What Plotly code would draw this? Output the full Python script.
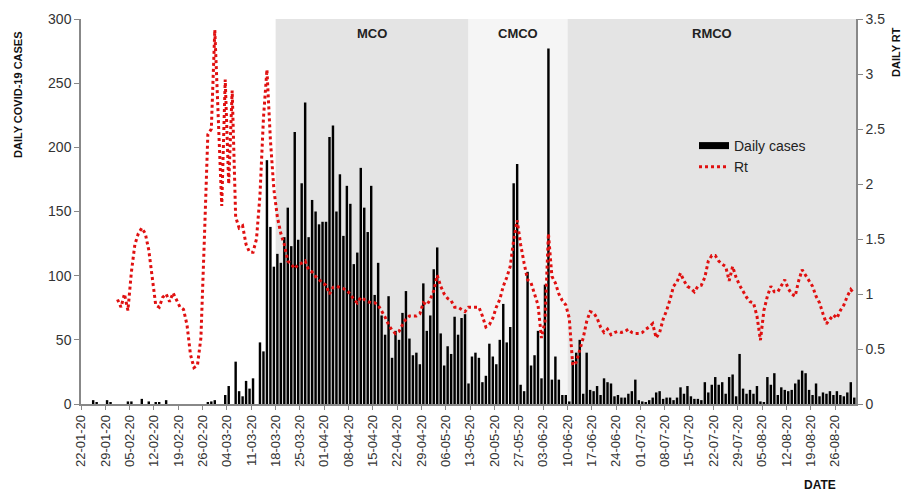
import pandas as pd
import plotly.graph_objects as go

dates = pd.date_range("2020-01-22", "2020-08-31", freq="D")

daily_cases = [
    0, 0, 0, 3, 1, 0, 0, 3, 1, 0,            # 22-01 .. 31-01
    0, 0, 0, 2, 2, 0, 0, 4, 0, 2,            # 01-02 .. 10-02
    0, 1, 1, 0, 3, 0, 0, 0, 0, 0,            # 11-02 .. 20-02
    0, 0, 0, 0, 0, 0, 1, 2, 3, 0,            # 21-02 .. 01-03
    0, 7, 14, 0, 33, 10, 6, 18, 12, 20,      # 02-03 .. 11-03
    0, 48, 41, 190, 138, 107, 117, 110, 130, 153,   # 12-03 .. 21-03
    123, 212, 128, 172, 235, 130, 159, 150, 140, 142,  # 22-03 .. 31-03
    142, 208, 217, 150, 179, 131, 170, 156, 109, 118,  # 01-04 .. 10-04
    184, 153, 134, 170, 85, 110, 69, 54, 84, 36,       # 11-04 .. 20-04
    57, 50, 71, 88, 51, 38, 40, 31, 94, 57,            # 21-04 .. 30-04
    69, 105, 122, 55, 30, 45, 39, 68, 54, 67,          # 01-05 .. 10-05
    70, 16, 37, 40, 36, 17, 22, 47, 37, 31,            # 11-05 .. 20-05
    50, 78, 48, 60, 172, 187, 15, 10, 103, 30,         # 21-05 .. 30-05
    38, 57, 20, 93, 277, 19, 37, 19, 7, 7,             # 31-05 .. 09-06
    2, 34, 40, 50, 8, 40, 11, 10, 14, 7,               # 10-06 .. 19-06
    20, 17, 16, 6, 7, 5, 5, 8, 10, 19,                 # 20-06 .. 29-06
    3, 2, 1, 3, 5, 9, 10, 4, 5, 5,                     # 30-06 .. 09-07
    3, 5, 13, 8, 14, 6, 4, 4, 3, 17,                   # 10-07 .. 19-07
    9, 15, 21, 15, 17, 8, 21, 23, 6, 39,               # 20-07 .. 29-07
    12, 8, 11, 8, 14, 2, 1, 21, 15, 24,                # 30-07 .. 08-08
    7, 13, 11, 10, 11, 16, 19, 26, 24, 11,             # 09-08 .. 18-08
    7, 16, 6, 9, 8, 10, 7, 10, 7, 6,                   # 19-08 .. 28-08
    9, 17, 5,                                          # 29-08 .. 31-08
]

rt_values = [None] * 10 + [
    0.95, 0.88, 1.00, 0.85, 1.20, 1.45, 1.55, 1.60, 1.55, 1.40,   # d10-19
    1.15, 0.90, 0.88, 0.97, 1.00, 0.93, 1.01, 0.95, 0.88, 0.86,   # d20-29
    0.72, 0.45, 0.33, 0.35, 0.60, 1.50, 2.45, 2.50, 3.40, 2.60,   # d30-39
    1.80, 2.95, 2.00, 2.85, 1.70, 1.60, 1.62, 1.45, 1.38, 1.38,   # d40-49
    1.50, 1.90, 2.60, 3.04, 2.40, 1.95, 1.70, 1.55, 1.45, 1.30,   # d50-59
    1.27, 1.23, 1.27, 1.28, 1.30, 1.22, 1.20, 1.16, 1.13, 1.10,   # d60-69
    1.08, 1.00, 1.06, 1.07, 1.06, 1.05, 1.03, 1.00, 0.95, 0.92,   # d70-79
    0.97, 0.95, 0.93, 0.92, 0.92, 0.90, 0.85, 0.79, 0.72, 0.67,   # d80-89
    0.64, 0.66, 0.72, 0.77, 0.80, 0.80, 0.80, 0.82, 0.92, 0.90,   # d90-99
    0.95, 1.03, 1.17, 1.07, 1.00, 0.96, 0.94, 0.88, 0.88, 0.86,   # d100-109
    0.84, 0.88, 0.88, 0.88, 0.88, 0.80, 0.70, 0.72, 0.78, 0.88,   # d110-119
    0.95, 1.07, 1.15, 1.25, 1.49, 1.67, 1.45, 1.28, 1.13, 1.10,   # d120-129
    1.00, 0.90, 0.60, 0.75, 1.55, 1.16, 1.10, 1.00, 0.94, 0.90,   # d130-139
    0.78, 0.35, 0.38, 0.48, 0.60, 0.75, 0.84, 0.83, 0.78, 0.70,   # d140-149
    0.65, 0.68, 0.63, 0.65, 0.66, 0.65, 0.66, 0.68, 0.65, 0.64,   # d150-159
    0.64, 0.65, 0.68, 0.70, 0.73, 0.60, 0.65, 0.77, 0.85, 0.95,   # d160-169
    1.07, 1.11, 1.19, 1.12, 1.07, 1.05, 1.02, 1.07, 1.08, 1.15,   # d170-179
    1.30, 1.35, 1.35, 1.30, 1.27, 1.25, 1.12, 1.25, 1.15, 1.08,   # d180-189
    1.02, 0.97, 0.93, 0.92, 0.80, 0.58, 0.85, 0.98, 1.07, 1.02,   # d190-199
    1.02, 1.08, 1.13, 1.05, 1.00, 0.98, 1.12, 1.22, 1.17, 1.12,   # d200-209
    1.07, 0.98, 0.92, 0.82, 0.73, 0.77, 0.81, 0.78, 0.85, 0.90,   # d210-219
    0.98, 1.04, 1.00,                                             # d220-222
]

phases = ["MCO", "CMCO", "RMCO"]
phase_start = ["2020-03-18", "2020-05-12 12:00", "2020-06-10"]
phase_end = ["2020-05-12 12:00", "2020-06-10", "2020-09-01"]
phase_color = ["#e4e4e4", "#f5f5f5", "#e4e4e4"]

FONT = "Liberation Sans, Arial, sans-serif"
DAY_MS = 86400000

# plot area geometry (page has 8px body margin); reference plot area x 81-856, y 19-404
L, T, PW, PH = 73, 11, 775, 385
FW, FH = 897, 487


def px_x(px):
    return (px - 81) / PW


def px_y(py):
    return (404 - py) / PH


fig = go.Figure()

fig.add_trace(go.Bar(
    x=dates, y=daily_cases, name="Daily cases",
    xperiod=DAY_MS, xperiodalignment="middle",
    marker=dict(color="#000000", line=dict(width=0)),
    showlegend=False,
))
# legend sample for bars (drawn as a thick line like the original)
fig.add_trace(go.Scatter(
    x=[None], y=[None], mode="lines", name="Daily cases",
    line=dict(color="#000000", width=7),
))
fig.add_trace(go.Scatter(
    x=dates, y=rt_values, name="Rt", yaxis="y2", mode="lines",
    xperiod=DAY_MS, xperiodalignment="middle",
    line=dict(color="#e01010", width=3, dash="3px,3px"),
    connectgaps=False,
))

shapes = []
annotations = []
for name, s, e, c in zip(phases, phase_start, phase_end, phase_color):
    shapes.append(dict(type="rect", xref="x", yref="paper", x0=s, x1=e, y0=0, y1=1,
                       fillcolor=c, line=dict(width=0), layer="below"))
    mid = pd.Timestamp(s) + (pd.Timestamp(e) - pd.Timestamp(s)) / 2
    annotations.append(dict(x=mid, y=px_y(33), xref="x", yref="paper", text="<b>%s</b>" % name,
                            xanchor="center", yanchor="middle",
                            showarrow=False, font=dict(size=13, color="#222", family=FONT)))

annotations.append(dict(x=px_x(18), y=px_y(95), xref="paper", yref="paper",
                        text="<b>DAILY COVID-19 CASES</b>", xanchor="center", yanchor="middle",
                        showarrow=False, textangle=-90, font=dict(size=11, color="#111", family=FONT)))
annotations.append(dict(x=px_x(896), y=px_y(52), xref="paper", yref="paper",
                        text="<b>DAILY RT</b>", xanchor="center", yanchor="middle",
                        showarrow=False, textangle=-90, font=dict(size=11, color="#111", family=FONT)))
annotations.append(dict(x=px_x(820), y=px_y(485), xref="paper", yref="paper",
                        text="<b>DATE</b>", xanchor="center", yanchor="middle",
                        showarrow=False, font=dict(size=12, color="#111", family=FONT)))

fig.update_layout(
    width=FW, height=FH,
    margin=dict(l=L, r=FW - L - PW, t=T, b=FH - T - PH, autoexpand=False),
    paper_bgcolor="white", plot_bgcolor="white",
    font=dict(family=FONT, size=13, color="#333"),
    bargap=0.3,
    shapes=shapes, annotations=annotations,
    legend=dict(x=px_x(694), y=px_y(130), xanchor="left", yanchor="top",
                bgcolor="rgba(0,0,0,0)", font=dict(size=14, color="#222"), tracegroupgap=2),
    xaxis=dict(type="date", range=["2020-01-22", "2020-09-01"], tick0="2020-01-22", dtick=7 * DAY_MS,
               tickformat="%d-%m-%y", tickangle=-90, ticks="outside", ticklen=4, tickcolor="#888",
               showline=True, linecolor="#888", linewidth=1.5, showgrid=False,
               tickfont=dict(size=13, color="#333")),
    yaxis=dict(range=[0, 300], dtick=50, ticks="outside", ticklen=5, tickcolor="#888",
               showline=True, linecolor="#888", linewidth=1.5, showgrid=False, zeroline=False,
               tickfont=dict(size=14, color="#333")),
    yaxis2=dict(range=[0, 3.5], dtick=0.5, overlaying="y", side="right", ticks="outside", ticklen=5,
                tickcolor="#888", showline=True, linecolor="#888", linewidth=1.5, showgrid=False,
                zeroline=False, tickfont=dict(size=14, color="#333")),
)

fig.write_html("out.html")
